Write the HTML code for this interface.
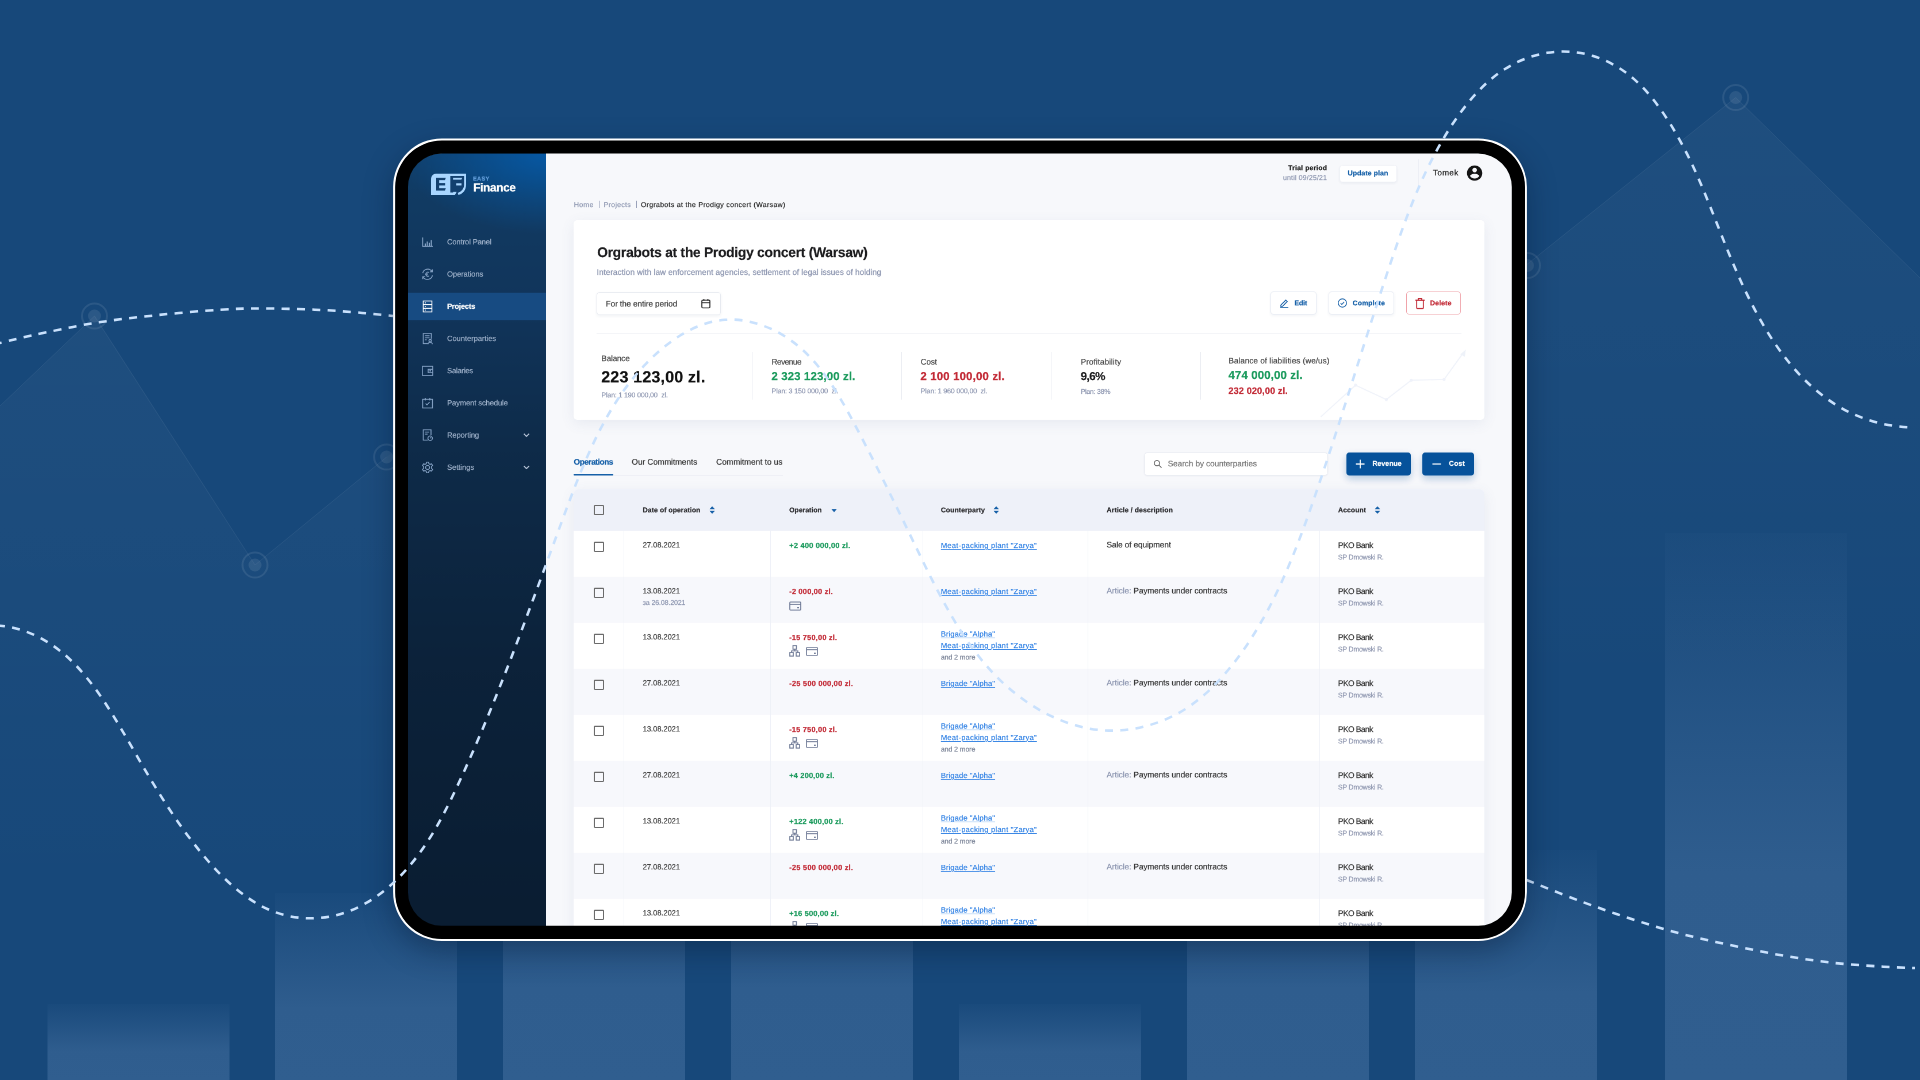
<!DOCTYPE html>
<html lang="en">
<head>
<meta charset="utf-8">
<title>Easy Finance – Project</title>
<style>
*{box-sizing:border-box;margin:0;padding:0}
html,body{width:1920px;height:1080px;overflow:hidden}
body{background:#17487a;font-family:"Liberation Sans",sans-serif;position:relative}
.abs{position:absolute}
#tablet{position:absolute;left:396px;top:142px;width:1128px;height:796px;border-radius:46px;background:#000;box-shadow:0 10px 30px 2px rgba(4,18,42,.38)}
#screen{position:absolute;left:407px;top:153px;width:1106px;height:774px;border-radius:35px;overflow:hidden;background:#f7f8fb}
#app{position:absolute;left:1px;top:0;width:1920px;height:1346px;transform:translate(0,0.5px) scale(.575);transform-origin:0 0;will-change:transform;color:#222;font-size:14px;text-rendering:geometricPrecision}
#app *{position:absolute;white-space:nowrap}
#app svg *{position:static}
.t{line-height:1;-webkit-text-stroke:0.3px}
#side{left:0;top:-4px;width:240px;height:1352px;background:linear-gradient(180deg,#10406d 0px,#113b63 80px,#11385f 160px,#11355b 270px,#0e2b49 520px,#0c223a 900px,#0a1d32 1344px)}
.nav{left:0;width:240px;height:48px}
.nav.on{background:#174b82}
.card{background:#fff;border-radius:6px;box-shadow:0 6px 24px rgba(80,100,150,.10)}
.btn{background:#fff;border-radius:5px;border:1px solid #e4e9f3;box-shadow:0 2px 4px rgba(60,80,130,.07)}
.vd{width:1px;background:#e6e9f0}
.row{left:288px;width:1584px;height:80px}
.cb{width:18px;height:18px;border:2px solid #6b6b6b;border-radius:2.5px;left:323px}
.cd{width:1px;background:#edf0f7;top:656px;height:700px}
.ic{stroke:#6f7a96;fill:none;stroke-width:1.7}
a.l{color:#2f80e4;text-decoration:underline;text-underline-offset:2px}
</style>
</head>
<body>
<svg class="abs" style="left:0;top:0" width="1920" height="1080" viewBox="0 0 1920 1080"><defs><linearGradient id="gb" x1="0" y1="0" x2="0" y2="1"><stop offset="0" stop-color="#2f5d8e" stop-opacity=".1"/><stop offset=".62" stop-color="#2f5d8e" stop-opacity="1"/><stop offset="1" stop-color="#305e8f" stop-opacity="1"/></linearGradient><linearGradient id="ga" gradientUnits="userSpaceOnUse" x1="0" y1="300" x2="0" y2="900"><stop offset="0" stop-color="#fff" stop-opacity=".035"/><stop offset="1" stop-color="#fff" stop-opacity="0"/></linearGradient><linearGradient id="gr" gradientUnits="userSpaceOnUse" x1="0" y1="90" x2="0" y2="700"><stop offset="0" stop-color="#fff" stop-opacity=".035"/><stop offset="1" stop-color="#fff" stop-opacity="0"/></linearGradient></defs><rect x="47.5" y="1004" width="182" height="76" fill="url(#gb)"/><rect x="275" y="893" width="182" height="187" fill="url(#gb)"/><rect x="503" y="840" width="182" height="240" fill="url(#gb)"/><rect x="731" y="840" width="182" height="240" fill="url(#gb)"/><rect x="959" y="1004" width="182" height="76" fill="url(#gb)"/><rect x="1187" y="840" width="182" height="240" fill="url(#gb)"/><rect x="1415" y="850" width="182" height="230" fill="url(#gb)"/><rect x="1665" y="533" width="182" height="547" fill="url(#gb)"/><path d="M0 406L94.5 316L255 565L386.6 457L420 430V1000H0Z" fill="url(#ga)"/><path d="M0 406L94.5 316L255 565L386.6 457" fill="none" stroke="#fff" stroke-opacity=".06" stroke-width="1"/><circle cx="94.5" cy="316" r="12.5" fill="none" stroke="#fff" stroke-opacity=".09" stroke-width="2"/><circle cx="94.5" cy="316" r="6.5" fill="#fff" fill-opacity=".09"/><circle cx="255" cy="565" r="12.5" fill="none" stroke="#fff" stroke-opacity=".09" stroke-width="2"/><circle cx="255" cy="565" r="6.5" fill="#fff" fill-opacity=".09"/><circle cx="386.6" cy="457" r="12.5" fill="none" stroke="#fff" stroke-opacity=".09" stroke-width="2"/><circle cx="386.6" cy="457" r="6.5" fill="#fff" fill-opacity=".09"/><path d="M1500 286L1735.7 97.5L1920 278V800H1500Z" fill="url(#gr)"/><path d="M1500 286L1735.7 97.5L1920 278" fill="none" stroke="#fff" stroke-opacity=".06" stroke-width="1"/><circle cx="1735.7" cy="97.5" r="12.5" fill="none" stroke="#fff" stroke-opacity=".09" stroke-width="2"/><circle cx="1735.7" cy="97.5" r="6.5" fill="#fff" fill-opacity=".09"/><circle cx="1527.5" cy="265.5" r="12.5" fill="none" stroke="#fff" stroke-opacity=".09" stroke-width="2"/><circle cx="1527.5" cy="265.5" r="6.5" fill="#fff" fill-opacity=".09"/><path d="M-6.0 344.5C0.2 343.0 14.8 339.2 31.5 335.6C48.2 332.0 73.5 326.4 94.5 323.0C115.5 319.6 136.4 317.3 157.4 315.1C178.4 312.9 203.1 310.8 220.4 309.7C237.7 308.6 245.6 308.5 261.3 308.5C277.1 308.5 298.1 309.0 314.9 309.7C331.7 310.4 349.1 311.8 362.1 312.9C375.1 313.9 387.9 315.5 393.0 316.0" stroke="#c9e1fd" stroke-width="2.55" fill="none" stroke-dasharray="8 7.3"/><path d="M1526.5 880.0C1535.4 883.5 1562.8 894.6 1580.0 901.0C1597.2 907.4 1613.3 913.1 1630.0 918.5C1646.7 923.9 1663.3 929.1 1680.0 933.5C1696.7 937.9 1713.3 941.4 1730.0 945.0C1746.7 948.6 1763.3 952.1 1780.0 955.0C1796.7 957.9 1813.3 960.6 1830.0 962.5C1846.7 964.4 1865.8 965.6 1880.0 966.5C1894.2 967.4 1909.2 967.8 1915.0 968.0" stroke="#c9e1fd" stroke-width="2.55" fill="none" stroke-dasharray="8 7.3"/></svg>
<div id="tablet"></div>
<div id="screen">
<div id="app">
<div id="side"></div>
<div style="left:0;top:0;width:240px;height:330px;background:radial-gradient(ellipse 250px 140px at 100% 0%,rgba(0,105,200,.6),rgba(0,105,200,0) 100%)"></div>
<svg style="left:40px;top:35.3px;width:61px;height:37px" viewBox="0 0 61 37">
<path d="M9.5 0H61V19C61 29 55 35.5 47.5 37H0V9.5C0 4 4 0 9.5 0Z" fill="#a9d6ff"/>
<path d="M33.5 4.1H57.5V19C57.5 26.5 52.5 31.5 46.5 33.5L47.7 37.2H41.5L44.6 31.7H38.5V32.7H33.5Z" fill="#12406f"/>
<path d="M38.3 7.2H54.5L52.6 10.5H38.3ZM43.9 16.8H53V20.5H43.9Z" fill="#a9d6ff"/>
<path d="M9 7.2H25.8L24.2 11.3H14.2V16.3H24.5V20.5H14.2V25.3H25.8L24.2 29.4H9Z" fill="#12406f"/>
</svg>
<div class="nav" style="top:130px"></div>
<svg style="left:22px;top:142px;width:24px;height:24px" viewBox="0 0 24 24" fill="none" stroke="#86a3c6" stroke-width="1.6"><path d="M3.5 4V19.5H21"/><path d="M8 19V14.5M11.5 19V11M15 19V13M18.5 19V8.5" stroke-width="2"/></svg>
<div class="nav" style="top:186px"></div>
<svg style="left:22px;top:198px;width:24px;height:24px" viewBox="0 0 24 24" fill="none" stroke="#86a3c6" stroke-width="1.6"><path d="M3.6 10.2A8.7 8.7 0 0 1 19.6 7.2M20.4 13.8A8.7 8.7 0 0 1 4.4 16.8"/><path d="M20.3 3.6V7.8H16.1M3.7 20.4V16.2H7.9"/><path d="M14.6 9.3A3.5 3.5 0 1 0 14.6 14.7M8.4 11.1H12.6M8.4 13H12.6" stroke-width="1.4"/></svg>
<div class="nav on" style="top:242px"></div>
<svg style="left:22px;top:254px;width:24px;height:24px" viewBox="0 0 24 24" fill="none" stroke="#fff" stroke-width="1.6"><rect x="4.5" y="2.5" width="15" height="19"/><path d="M4.5 8.8H19.5M4.5 15.2H19.5"/><path d="M7.3 5.7H9M7.3 12H9M7.3 18.3H9"/></svg>
<div class="nav" style="top:298px"></div>
<svg style="left:22px;top:310px;width:24px;height:24px" viewBox="0 0 24 24" fill="none" stroke="#86a3c6" stroke-width="1.6"><path d="M12.5 20.5H4.5V3H18.5V12"/><path d="M7.5 7H15.5M7.5 10.5H15.5M7.5 14H10.5"/><circle cx="16.5" cy="15.5" r="2.1"/><path d="M12.8 21.5C12.8 19 14.6 18.5 16.5 18.5S20.2 19 20.2 21.5"/></svg>
<div class="nav" style="top:354px"></div>
<svg style="left:22px;top:366px;width:24px;height:24px" viewBox="0 0 24 24" fill="none" stroke="#86a3c6" stroke-width="1.6"><rect x="3" y="4" width="18" height="16"/><path d="M21 9.2H13V15H21"/><path d="M15.3 12.1H18" stroke-width="2.2"/></svg>
<div class="nav" style="top:410px"></div>
<svg style="left:22px;top:422px;width:24px;height:24px" viewBox="0 0 24 24" fill="none" stroke="#86a3c6" stroke-width="1.6"><rect x="3.5" y="5.5" width="17" height="15"/><path d="M8 3V7.5M16 3V7.5"/><path d="M8.5 12.8L11 15.2L15.6 10.3"/></svg>
<div class="nav" style="top:466px"></div>
<svg style="left:22px;top:478px;width:24px;height:24px" viewBox="0 0 24 24" fill="none" stroke="#86a3c6" stroke-width="1.6"><path d="M12.5 20.5H4.5V2.5H18V12"/><path d="M7.5 6.5H15M7.5 10H12"/><circle cx="16.5" cy="17.2" r="3.9"/><path d="M16.5 17.2L18.3 15.6"/></svg>
<svg style="left:198px;top:482px;width:16px;height:16px" viewBox="0 0 16 16" fill="none" stroke="#b9c7da" stroke-width="1.8"><path d="M3.5 5.5L8 10L12.5 5.5"/></svg>
<div class="nav" style="top:522px"></div>
<svg style="left:22px;top:534px;width:24px;height:24px" viewBox="0 0 24 24" fill="none" stroke="#86a3c6" stroke-width="1.6"><circle cx="12" cy="12" r="3.5"/><path d="M10.3 2.8H13.7L14.3 5.4L16.5 6.6L19 5.8L20.7 8.7L18.8 10.5V13.5L20.7 15.3L19 18.2L16.5 17.4L14.3 18.6L13.7 21.2H10.3L9.7 18.6L7.5 17.4L5 18.2L3.3 15.3L5.2 13.5V10.5L3.3 8.7L5 5.8L7.5 6.6L9.7 5.4Z"/></svg>
<svg style="left:198px;top:538px;width:16px;height:16px" viewBox="0 0 16 16" fill="none" stroke="#b9c7da" stroke-width="1.8"><path d="M3.5 5.5L8 10L12.5 5.5"/></svg>
<div class="btn" style="left:1620px;top:20px;width:100px;height:30px;border-color:#eef0f6"></div>
<div class="vd" style="left:1757px;top:10px;height:48px;background:#eceef4"></div>
<svg style="left:1839px;top:18px;width:32px;height:32px" viewBox="0 0 24 24"><path fill="#141414" d="M12 2C6.48 2 2 6.48 2 12s4.48 10 10 10 10-4.48 10-10S17.52 2 12 2zm0 3c1.66 0 3 1.34 3 3s-1.34 3-3 3-3-1.34-3-3 1.34-3 3-3zm0 14.2c-2.5 0-4.71-1.28-6-3.22.03-1.99 4-3.08 6-3.08 1.99 0 5.97 1.09 6 3.08-1.29 1.94-3.5 3.22-6 3.22z"/></svg>
<div style="left:332.2px;top:82px;width:1px;height:13px;background:#8d96b0"></div>
<div style="left:396.9px;top:82px;width:1px;height:13px;background:#8d96b0"></div>
<div class="card" style="left:288px;top:116px;width:1584px;height:347px"></div>
<div class="btn" style="left:328px;top:241px;width:216px;height:40px;border-color:#e6e9f0"></div>
<svg style="left:508px;top:251px;width:20px;height:20px" viewBox="0 0 20 20" fill="none" stroke="#222" stroke-width="1.7"><rect x="3" y="4" width="14" height="13.5" rx="1.5"/><path d="M3 8.5H17M6.5 2V5M13.5 2V5"/></svg>
<div class="btn" style="left:1500px;top:240px;width:80px;height:40px"></div>
<svg style="left:1515.1px;top:251px;width:18px;height:18px" viewBox="0 0 18 18" fill="none" stroke="#1660a8" stroke-width="1.6"><path d="M3 12.5L11.5 4L14 6.5L5.5 15H3Z"/><path d="M2 17H16"/></svg>
<div class="btn" style="left:1601px;top:240px;width:114px;height:40px"></div>
<svg style="left:1615.9px;top:251px;width:18px;height:18px" viewBox="0 0 18 18" fill="none" stroke="#1660a8" stroke-width="1.5"><circle cx="9" cy="9" r="7.2"/><path d="M5.8 9.3L8 11.4L12.2 7"/></svg>
<div class="btn" style="left:1736px;top:240px;width:95px;height:40px;border-color:#f0a3aa;box-shadow:none"></div>
<svg style="left:1751.3px;top:249.5px;width:18px;height:21px" viewBox="0 0 18 21" fill="none" stroke="#c22a36" stroke-width="1.8"><path d="M1 5H17M6 4.5V2H12V4.5M3.2 5V18C3.2 19 3.8 19.6 4.8 19.6H13.2C14.2 19.6 14.8 19 14.8 18V5"/></svg>
<div style="left:328px;top:312px;width:1504px;height:1px;background:#e9ebf1"></div>
<div class="vd" style="left:598.3px;top:345px;height:83px"></div>
<div class="vd" style="left:858.3px;top:345px;height:83px"></div>
<div class="vd" style="left:1118.3px;top:345px;height:83px"></div>
<div class="vd" style="left:1378.3px;top:345px;height:83px"></div>
<svg style="left:1551.3px;top:324.3px;width:313.0px;height:139.1px" viewBox="1300 340 180 80" fill="none"><path d="M1321 417L1355.7 385.4L1386.5 399.7L1411.5 380.4L1444.3 379.6L1463.5 353" stroke="#f0f3fa" stroke-width="1.1"/><path d="M1460.5 354.5L1466 349.8L1465 357Z" fill="#eef2f9"/><circle cx="1355.7" cy="385.4" r="1.5" fill="#eff2fa"/><circle cx="1386.5" cy="399.7" r="1.5" fill="#eff2fa"/><circle cx="1411.5" cy="380.4" r="1.5" fill="#eff2fa"/><circle cx="1444.3" cy="379.6" r="1.5" fill="#eff2fa"/></svg>
<div style="left:288px;top:559px;width:364px;height:1px;background:#e6e9f0"></div>
<div style="left:288px;top:556.5px;width:68.5px;height:3.5px;border-radius:2px;background:#1660a8"></div>
<div class="btn" style="left:1280px;top:520px;width:320px;height:40px;border-color:#e6e9f0;box-shadow:0 1px 3px rgba(60,80,130,.06)"></div>
<svg style="left:1295px;top:531px;width:18px;height:18px" viewBox="0 0 18 18" fill="none" stroke="#666" stroke-width="1.6"><circle cx="7.5" cy="7.5" r="4.6"/><path d="M11 11L15.5 15.5"/></svg>
<div style="left:1632px;top:520px;width:112px;height:40px;border-radius:5px;background:#06529b;box-shadow:0 6px 14px rgba(6,82,155,.28)"></div>
<svg style="left:1647px;top:531px;width:18px;height:18px" viewBox="0 0 18 18" stroke="#fff" stroke-width="1.8"><path d="M9 1.5V16.5M1.5 9H16.5"/></svg>
<div style="left:1764px;top:520px;width:90px;height:40px;border-radius:5px;background:#06529b;box-shadow:0 6px 14px rgba(6,82,155,.28)"></div>
<svg style="left:1780px;top:531px;width:18px;height:18px" viewBox="0 0 18 18" stroke="#fff" stroke-width="1.8"><path d="M1.5 9H16.5"/></svg>
<div style="left:288px;top:584px;width:1584px;height:780px;border-radius:8px 8px 0 0;background:#fff;box-shadow:0 6px 24px rgba(80,100,150,.10)"></div>
<div style="left:288px;top:584px;width:1584px;height:72px;border-radius:8px 8px 0 0;background:#eef1f9"></div>
<div class="cb" style="top:611px"></div>
<svg style="left:523.7px;top:613px;width:10px;height:14px" viewBox="0 0 10 14" fill="#1660a8"><path d="M5 0.5L9.6 5.6H0.4ZM5 13.5L9.6 8.4H0.4Z"/></svg>
<svg style="left:735.5px;top:617.5px;width:10px;height:6px" viewBox="0 0 10 6" fill="#1660a8"><path d="M0.2 0.3H9.8L5 5.7Z"/></svg>
<svg style="left:1018.3px;top:613px;width:10px;height:14px" viewBox="0 0 10 14" fill="#1660a8"><path d="M5 0.5L9.6 5.6H0.4ZM5 13.5L9.6 8.4H0.4Z"/></svg>
<svg style="left:1681.3px;top:613px;width:10px;height:14px" viewBox="0 0 10 14" fill="#1660a8"><path d="M5 0.5L9.6 5.6H0.4ZM5 13.5L9.6 8.4H0.4Z"/></svg>
<div class="row" style="top:656px;background:#fff"></div>
<div class="cb" style="top:675px"></div>
<div class="row" style="top:736px;background:#f7f8fc"></div>
<div class="cb" style="top:755px"></div>
<svg class="ic" style="left:662.5px;top:778.5px;width:21px;height:16px" viewBox="0 0 21 16"><rect x="1" y="1" width="19" height="14" rx="1.2"/><path d="M1 5H20"/><path d="M14 11H17" stroke-width="2"/></svg>
<div class="row" style="top:816px;background:#fff"></div>
<div class="cb" style="top:835px"></div>
<svg class="ic" style="left:662.5px;top:855px;width:19px;height:20px" viewBox="0 0 19 20"><rect x="6.5" y="1" width="6" height="6"/><rect x="1" y="13" width="6" height="6"/><rect x="12" y="13" width="6" height="6"/><path d="M9.5 7V10M4 13V10H15V13"/></svg>
<svg class="ic" style="left:691.7px;top:857.5px;width:21px;height:16px" viewBox="0 0 21 16"><rect x="1" y="1" width="19" height="14" rx="1.2"/><path d="M1 5H20"/><path d="M14 11H17" stroke-width="2"/></svg>
<div class="row" style="top:896px;background:#f7f8fc"></div>
<div class="cb" style="top:915px"></div>
<div class="row" style="top:976px;background:#fff"></div>
<div class="cb" style="top:995px"></div>
<svg class="ic" style="left:662.5px;top:1015px;width:19px;height:20px" viewBox="0 0 19 20"><rect x="6.5" y="1" width="6" height="6"/><rect x="1" y="13" width="6" height="6"/><rect x="12" y="13" width="6" height="6"/><path d="M9.5 7V10M4 13V10H15V13"/></svg>
<svg class="ic" style="left:691.7px;top:1017.5px;width:21px;height:16px" viewBox="0 0 21 16"><rect x="1" y="1" width="19" height="14" rx="1.2"/><path d="M1 5H20"/><path d="M14 11H17" stroke-width="2"/></svg>
<div class="row" style="top:1056px;background:#f7f8fc"></div>
<div class="cb" style="top:1075px"></div>
<div class="row" style="top:1136px;background:#fff"></div>
<div class="cb" style="top:1155px"></div>
<svg class="ic" style="left:662.5px;top:1175px;width:19px;height:20px" viewBox="0 0 19 20"><rect x="6.5" y="1" width="6" height="6"/><rect x="1" y="13" width="6" height="6"/><rect x="12" y="13" width="6" height="6"/><path d="M9.5 7V10M4 13V10H15V13"/></svg>
<svg class="ic" style="left:691.7px;top:1177.5px;width:21px;height:16px" viewBox="0 0 21 16"><rect x="1" y="1" width="19" height="14" rx="1.2"/><path d="M1 5H20"/><path d="M14 11H17" stroke-width="2"/></svg>
<div class="row" style="top:1216px;background:#f7f8fc"></div>
<div class="cb" style="top:1235px"></div>
<div class="row" style="top:1296px;background:#fff"></div>
<div class="cb" style="top:1315px"></div>
<svg class="ic" style="left:662.5px;top:1335px;width:19px;height:20px" viewBox="0 0 19 20"><rect x="6.5" y="1" width="6" height="6"/><rect x="1" y="13" width="6" height="6"/><rect x="12" y="13" width="6" height="6"/><path d="M9.5 7V10M4 13V10H15V13"/></svg>
<svg class="ic" style="left:691.7px;top:1337.5px;width:21px;height:16px" viewBox="0 0 21 16"><rect x="1" y="1" width="19" height="14" rx="1.2"/><path d="M1 5H20"/><path d="M14 11H17" stroke-width="2"/></svg>
<div class="cd" style="left:374.5px"></div>
<div class="cd" style="left:630px"></div>
<div class="cd" style="left:894.8px"></div>
<div class="cd" style="left:1181.7px"></div>
<div class="cd" style="left:1585px"></div>
<span class="t" style="top:39.8px;font-size:10px;color:#5f9ad6;left:112.9px;font-weight:bold;letter-spacing:0.452px;">EASY</span>
<span class="t" style="top:49.6px;font-size:20.5px;color:#fff;left:113.4px;font-weight:bold;letter-spacing:-0.533px;">Finance</span>
<span class="t" style="top:147.2px;font-size:13px;color:#9db0c9;left:68.0px;letter-spacing:-0.134px;">Control Panel</span>
<span class="t" style="top:203.2px;font-size:13px;color:#9db0c9;left:68.0px;letter-spacing:-0.081px;">Operations</span>
<span class="t" style="top:259.2px;font-size:13px;color:#fff;left:68.0px;font-weight:bold;letter-spacing:-0.349px;">Projects</span>
<span class="t" style="top:315.2px;font-size:13px;color:#9db0c9;left:68.0px;letter-spacing:-0.005px;">Counterparties</span>
<span class="t" style="top:371.2px;font-size:13px;color:#9db0c9;left:68.0px;letter-spacing:-0.241px;">Salaries</span>
<span class="t" style="top:427.2px;font-size:13px;color:#9db0c9;left:68.0px;letter-spacing:-0.087px;">Payment schedule</span>
<span class="t" style="top:483.2px;font-size:13px;color:#9db0c9;left:68.0px;letter-spacing:-0.100px;">Reporting</span>
<span class="t" style="top:539.2px;font-size:13px;color:#9db0c9;left:68.0px;">Settings</span>
<span class="t" style="top:19.0px;font-size:12px;color:#222;right:321.7px;font-weight:bold;letter-spacing:0.233px;">Trial period</span>
<span class="t" style="top:35.5px;font-size:12px;color:#8d96b0;right:321.7px;letter-spacing:0.319px;">until 09/25/21</span>
<span class="t" style="top:27.5px;font-size:12px;color:#1660a8;left:1634.3px;font-weight:bold;letter-spacing:0.160px;">Update plan</span>
<span class="t" style="top:26.4px;font-size:14px;color:#222;left:1782.6px;letter-spacing:0.657px;">Tomek</span>
<span class="t" style="top:83.2px;font-size:12px;color:#8d96b0;left:288.5px;letter-spacing:0.605px;">Home</span>
<span class="t" style="top:83.2px;font-size:12px;color:#8d96b0;left:340.2px;letter-spacing:0.537px;">Projects</span>
<span class="t" style="top:83.2px;font-size:12px;color:#222;left:404.9px;letter-spacing:0.586px;">Orgrabots at the Prodigy concert (Warsaw)</span>
<span class="t" style="top:160.6px;font-size:24px;color:#1c1c1e;left:329.0px;font-weight:bold;letter-spacing:-0.450px;">Orgrabots at the Prodigy concert (Warsaw)</span>
<span class="t" style="top:198.8px;font-size:14px;color:#8d96b0;left:328.3px;letter-spacing:0.058px;">Interaction with law enforcement agencies, settlement of legal issues of holding</span>
<span class="t" style="top:253.7px;font-size:14px;color:#3a3a3a;left:344.0px;letter-spacing:-0.091px;">For the entire period</span>
<span class="t" style="top:253.6px;font-size:12px;color:#1660a8;left:1541.6px;font-weight:bold;letter-spacing:-0.146px;">Edit</span>
<span class="t" style="top:253.6px;font-size:12px;color:#1660a8;left:1642.8px;font-weight:bold;letter-spacing:0.208px;">Complete</span>
<span class="t" style="top:253.6px;font-size:12px;color:#c22a36;left:1777.4px;font-weight:bold;letter-spacing:0.256px;">Delete</span>
<span class="t" style="top:349.4px;font-size:14px;color:#4a4a4a;left:336.3px;letter-spacing:-0.197px;">Balance</span>
<span class="t" style="top:374.6px;font-size:28px;color:#111;left:336.0px;font-weight:bold;letter-spacing:0.267px;">223 123,00 zl.</span>
<span class="t" style="top:413.5px;font-size:12px;color:#8d96b0;left:336.3px;letter-spacing:-0.164px;">Plan: 1 190 000,00&nbsp; zl.</span>
<span class="t" style="top:354.9px;font-size:14px;color:#4a4a4a;left:632.3px;letter-spacing:-0.653px;">Revenue</span>
<span class="t" style="top:378.2px;font-size:20px;color:#1a9a5c;left:632.0px;font-weight:bold;letter-spacing:0.165px;">2 323 123,00 zl.</span>
<span class="t" style="top:407.0px;font-size:12px;color:#8d96b0;left:632.3px;letter-spacing:-0.156px;">Plan: 3 150 000,00&nbsp; zl.</span>
<span class="t" style="top:354.9px;font-size:14px;color:#4a4a4a;left:891.5px;letter-spacing:-0.112px;">Cost</span>
<span class="t" style="top:378.2px;font-size:20px;color:#c22a36;left:891.1px;font-weight:bold;letter-spacing:0.208px;">2 100 100,00 zl.</span>
<span class="t" style="top:407.0px;font-size:12px;color:#8d96b0;left:891.5px;letter-spacing:-0.156px;">Plan: 1 960 000,00&nbsp; zl.</span>
<span class="t" style="top:354.6px;font-size:14px;color:#4a4a4a;left:1169.9px;letter-spacing:0.151px;">Profitability</span>
<span class="t" style="top:378.4px;font-size:20px;color:#1c1c1e;left:1169.7px;font-weight:bold;letter-spacing:-0.790px;">9,6%</span>
<span class="t" style="top:408.4px;font-size:12px;color:#8d96b0;left:1169.9px;letter-spacing:-0.378px;">Plan: 38%</span>
<span class="t" style="top:352.7px;font-size:14px;color:#4a4a4a;left:1427.0px;letter-spacing:0.091px;">Balance of liabilities (we/us)</span>
<span class="t" style="top:375.9px;font-size:20px;color:#1a9a5c;left:1426.8px;font-weight:bold;letter-spacing:0.174px;">474 000,00 zl.</span>
<span class="t" style="top:405.6px;font-size:16px;color:#c22a36;left:1426.8px;font-weight:bold;letter-spacing:0.134px;">232 020,00 zl.</span>
<span class="t" style="top:528.9px;font-size:14px;color:#1660a8;left:288.2px;font-weight:bold;letter-spacing:-0.556px;">Operations</span>
<span class="t" style="top:528.9px;font-size:14px;color:#333;left:389.0px;letter-spacing:0.022px;">Our Commitments</span>
<span class="t" style="top:528.9px;font-size:14px;color:#333;left:536.0px;letter-spacing:0.107px;">Commitment to us</span>
<span class="t" style="top:532.2px;font-size:14px;color:#777;left:1321.4px;letter-spacing:-0.036px;">Search by counterparties</span>
<span class="t" style="top:532.9px;font-size:12px;color:#fff;left:1677.2px;font-weight:bold;letter-spacing:0.132px;">Revenue</span>
<span class="t" style="top:532.9px;font-size:12px;color:#fff;left:1810.3px;font-weight:bold;letter-spacing:0.289px;">Cost</span>
<span class="t" style="top:613.6px;font-size:12px;color:#2b2b2e;left:408.2px;font-weight:bold;letter-spacing:0.099px;">Date of operation</span>
<span class="t" style="top:613.6px;font-size:12px;color:#2b2b2e;left:663.0px;font-weight:bold;letter-spacing:-0.017px;">Operation</span>
<span class="t" style="top:613.6px;font-size:12px;color:#2b2b2e;left:926.8px;font-weight:bold;letter-spacing:0.098px;">Counterparty</span>
<span class="t" style="top:613.6px;font-size:12px;color:#2b2b2e;left:1215.0px;font-weight:bold;letter-spacing:0.148px;">Article / description</span>
<span class="t" style="top:613.6px;font-size:12px;color:#2b2b2e;left:1617.6px;font-weight:bold;letter-spacing:0.050px;">Account</span>
<span class="t" style="top:674.3px;font-size:13px;color:#444;left:408.2px;letter-spacing:-0.021px;">27.08.2021</span>
<span class="t" style="top:675.0px;font-size:13px;color:#1a9a5c;left:663.0px;font-weight:bold;letter-spacing:0.329px;">+2 400 000,00 zl.</span>
<span class="t" style="top:674.8px;font-size:13px;color:#2f80e4;left:926.8px;letter-spacing:0.424px;color:#2f80e4;text-decoration:underline;text-underline-offset:1.5px;text-decoration-thickness:1px;">Meat-packing plant "Zarya"</span>
<span class="t" style="top:672.5px;font-size:14px;color:#333;left:1215.0px;letter-spacing:-0.061px;">Sale of equipment</span>
<span class="t" style="top:674.4px;font-size:14px;color:#333;left:1617.6px;letter-spacing:-0.607px;">PKO Bank</span>
<span class="t" style="top:695.9px;font-size:12px;color:#9098b0;left:1617.6px;letter-spacing:-0.295px;">SP Dmowski R.</span>
<span class="t" style="top:754.3px;font-size:13px;color:#444;left:408.2px;letter-spacing:-0.021px;">13.08.2021</span>
<span class="t" style="top:775.2px;font-size:12px;color:#8d96b0;left:408.2px;letter-spacing:-0.101px;">за 26.08.2021</span>
<span class="t" style="top:755.0px;font-size:13px;color:#c22a36;left:663.0px;font-weight:bold;letter-spacing:0.299px;">-2 000,00 zl.</span>
<span class="t" style="top:754.8px;font-size:13px;color:#2f80e4;left:926.8px;letter-spacing:0.424px;color:#2f80e4;text-decoration:underline;text-underline-offset:1.5px;text-decoration-thickness:1px;">Meat-packing plant "Zarya"</span>
<span class="t" style="top:752.5px;font-size:14px;color:#333;left:1215.0px;letter-spacing:0.012px;"><span style="position:static;color:#8d96b0">Article:</span> Payments under contracts</span>
<span class="t" style="top:754.4px;font-size:14px;color:#333;left:1617.6px;letter-spacing:-0.607px;">PKO Bank</span>
<span class="t" style="top:775.9px;font-size:12px;color:#9098b0;left:1617.6px;letter-spacing:-0.295px;">SP Dmowski R.</span>
<span class="t" style="top:834.3px;font-size:13px;color:#444;left:408.2px;letter-spacing:-0.021px;">13.08.2021</span>
<span class="t" style="top:835.0px;font-size:13px;color:#c22a36;left:663.0px;font-weight:bold;letter-spacing:0.272px;">-15 750,00 zl.</span>
<span class="t" style="top:828.7px;font-size:13px;color:#2f80e4;left:926.8px;letter-spacing:0.224px;color:#2f80e4;text-decoration:underline;text-underline-offset:1.5px;text-decoration-thickness:1px;">Brigade "Alpha"</span>
<span class="t" style="top:848.7px;font-size:13px;color:#2f80e4;left:926.8px;letter-spacing:0.424px;color:#2f80e4;text-decoration:underline;text-underline-offset:1.5px;text-decoration-thickness:1px;">Meat-packing plant "Zarya"</span>
<span class="t" style="top:869.8px;font-size:12px;color:#7d8699;left:926.8px;letter-spacing:-0.105px;">and 2 more</span>
<span class="t" style="top:834.4px;font-size:14px;color:#333;left:1617.6px;letter-spacing:-0.607px;">PKO Bank</span>
<span class="t" style="top:855.9px;font-size:12px;color:#9098b0;left:1617.6px;letter-spacing:-0.295px;">SP Dmowski R.</span>
<span class="t" style="top:914.3px;font-size:13px;color:#444;left:408.2px;letter-spacing:-0.021px;">27.08.2021</span>
<span class="t" style="top:915.0px;font-size:13px;color:#c22a36;left:663.0px;font-weight:bold;letter-spacing:0.361px;">-25 500 000,00 zl.</span>
<span class="t" style="top:914.8px;font-size:13px;color:#2f80e4;left:926.8px;letter-spacing:0.224px;color:#2f80e4;text-decoration:underline;text-underline-offset:1.5px;text-decoration-thickness:1px;">Brigade "Alpha"</span>
<span class="t" style="top:912.5px;font-size:14px;color:#333;left:1215.0px;letter-spacing:0.012px;"><span style="position:static;color:#8d96b0">Article:</span> Payments under contracts</span>
<span class="t" style="top:914.4px;font-size:14px;color:#333;left:1617.6px;letter-spacing:-0.607px;">PKO Bank</span>
<span class="t" style="top:935.9px;font-size:12px;color:#9098b0;left:1617.6px;letter-spacing:-0.295px;">SP Dmowski R.</span>
<span class="t" style="top:994.3px;font-size:13px;color:#444;left:408.2px;letter-spacing:-0.021px;">13.08.2021</span>
<span class="t" style="top:995.0px;font-size:13px;color:#c22a36;left:663.0px;font-weight:bold;letter-spacing:0.272px;">-15 750,00 zl.</span>
<span class="t" style="top:988.7px;font-size:13px;color:#2f80e4;left:926.8px;letter-spacing:0.224px;color:#2f80e4;text-decoration:underline;text-underline-offset:1.5px;text-decoration-thickness:1px;">Brigade "Alpha"</span>
<span class="t" style="top:1008.7px;font-size:13px;color:#2f80e4;left:926.8px;letter-spacing:0.424px;color:#2f80e4;text-decoration:underline;text-underline-offset:1.5px;text-decoration-thickness:1px;">Meat-packing plant "Zarya"</span>
<span class="t" style="top:1029.8px;font-size:12px;color:#7d8699;left:926.8px;letter-spacing:-0.105px;">and 2 more</span>
<span class="t" style="top:994.4px;font-size:14px;color:#333;left:1617.6px;letter-spacing:-0.607px;">PKO Bank</span>
<span class="t" style="top:1015.9px;font-size:12px;color:#9098b0;left:1617.6px;letter-spacing:-0.295px;">SP Dmowski R.</span>
<span class="t" style="top:1074.3px;font-size:13px;color:#444;left:408.2px;letter-spacing:-0.021px;">27.08.2021</span>
<span class="t" style="top:1075.0px;font-size:13px;color:#1a9a5c;left:663.0px;font-weight:bold;letter-spacing:0.250px;">+4 200,00 zl.</span>
<span class="t" style="top:1074.8px;font-size:13px;color:#2f80e4;left:926.8px;letter-spacing:0.224px;color:#2f80e4;text-decoration:underline;text-underline-offset:1.5px;text-decoration-thickness:1px;">Brigade "Alpha"</span>
<span class="t" style="top:1072.5px;font-size:14px;color:#333;left:1215.0px;letter-spacing:0.012px;"><span style="position:static;color:#8d96b0">Article:</span> Payments under contracts</span>
<span class="t" style="top:1074.4px;font-size:14px;color:#333;left:1617.6px;letter-spacing:-0.607px;">PKO Bank</span>
<span class="t" style="top:1095.9px;font-size:12px;color:#9098b0;left:1617.6px;letter-spacing:-0.295px;">SP Dmowski R.</span>
<span class="t" style="top:1154.3px;font-size:13px;color:#444;left:408.2px;letter-spacing:-0.021px;">13.08.2021</span>
<span class="t" style="top:1155.0px;font-size:13px;color:#1a9a5c;left:663.0px;font-weight:bold;letter-spacing:0.296px;">+122 400,00 zl.</span>
<span class="t" style="top:1148.7px;font-size:13px;color:#2f80e4;left:926.8px;letter-spacing:0.224px;color:#2f80e4;text-decoration:underline;text-underline-offset:1.5px;text-decoration-thickness:1px;">Brigade "Alpha"</span>
<span class="t" style="top:1168.7px;font-size:13px;color:#2f80e4;left:926.8px;letter-spacing:0.424px;color:#2f80e4;text-decoration:underline;text-underline-offset:1.5px;text-decoration-thickness:1px;">Meat-packing plant "Zarya"</span>
<span class="t" style="top:1189.8px;font-size:12px;color:#7d8699;left:926.8px;letter-spacing:-0.105px;">and 2 more</span>
<span class="t" style="top:1154.4px;font-size:14px;color:#333;left:1617.6px;letter-spacing:-0.607px;">PKO Bank</span>
<span class="t" style="top:1175.9px;font-size:12px;color:#9098b0;left:1617.6px;letter-spacing:-0.295px;">SP Dmowski R.</span>
<span class="t" style="top:1234.3px;font-size:13px;color:#444;left:408.2px;letter-spacing:-0.021px;">27.08.2021</span>
<span class="t" style="top:1235.0px;font-size:13px;color:#c22a36;left:663.0px;font-weight:bold;letter-spacing:0.361px;">-25 500 000,00 zl.</span>
<span class="t" style="top:1234.8px;font-size:13px;color:#2f80e4;left:926.8px;letter-spacing:0.224px;color:#2f80e4;text-decoration:underline;text-underline-offset:1.5px;text-decoration-thickness:1px;">Brigade "Alpha"</span>
<span class="t" style="top:1232.5px;font-size:14px;color:#333;left:1215.0px;letter-spacing:0.012px;"><span style="position:static;color:#8d96b0">Article:</span> Payments under contracts</span>
<span class="t" style="top:1234.4px;font-size:14px;color:#333;left:1617.6px;letter-spacing:-0.607px;">PKO Bank</span>
<span class="t" style="top:1255.9px;font-size:12px;color:#9098b0;left:1617.6px;letter-spacing:-0.295px;">SP Dmowski R.</span>
<span class="t" style="top:1314.3px;font-size:13px;color:#444;left:408.2px;letter-spacing:-0.021px;">13.08.2021</span>
<span class="t" style="top:1315.0px;font-size:13px;color:#1a9a5c;left:663.0px;font-weight:bold;letter-spacing:0.275px;">+16 500,00 zl.</span>
<span class="t" style="top:1308.7px;font-size:13px;color:#2f80e4;left:926.8px;letter-spacing:0.224px;color:#2f80e4;text-decoration:underline;text-underline-offset:1.5px;text-decoration-thickness:1px;">Brigade "Alpha"</span>
<span class="t" style="top:1328.7px;font-size:13px;color:#2f80e4;left:926.8px;letter-spacing:0.424px;color:#2f80e4;text-decoration:underline;text-underline-offset:1.5px;text-decoration-thickness:1px;">Meat-packing plant "Zarya"</span>
<span class="t" style="top:1349.8px;font-size:12px;color:#7d8699;left:926.8px;letter-spacing:-0.105px;">and 2 more</span>
<span class="t" style="top:1314.4px;font-size:14px;color:#333;left:1617.6px;letter-spacing:-0.607px;">PKO Bank</span>
<span class="t" style="top:1335.9px;font-size:12px;color:#9098b0;left:1617.6px;letter-spacing:-0.295px;">SP Dmowski R.</span>
</div>
</div>
<svg class="abs" style="left:0;top:0" width="1920" height="1080" viewBox="0 0 1920 1080"><path fill-rule="evenodd" fill="#fff" d="M441.70000000000005 138.4H1478.3000000000002A48.6 48.6 0 0 1 1526.9 187.0V892.3A48.6 48.6 0 0 1 1478.3000000000002 940.9H441.70000000000005A48.6 48.6 0 0 1 393.1 892.3V187.0A48.6 48.6 0 0 1 441.70000000000005 138.4ZM441.8 141H1478.3999999999999A46.2 46.2 0 0 1 1524.6 187.2V892.4A46.2 46.2 0 0 1 1478.3999999999999 938.6H441.8A46.2 46.2 0 0 1 395.6 892.4V187.2A46.2 46.2 0 0 1 441.8 141Z"/><path fill-rule="evenodd" fill="#000" d="M441.8 140.6H1478.4A46.6 46.6 0 0 1 1525 187.2V892.4A46.6 46.6 0 0 1 1478.4 939H441.8A46.6 46.6 0 0 1 395.2 892.4V187.2A46.6 46.6 0 0 1 441.8 140.6ZM441.5 153.6H1478.3A33.5 33.5 0 0 1 1511.8 187.1V892.2A33.5 33.5 0 0 1 1478.3 925.7H441.5A33.5 33.5 0 0 1 408 892.2V187.1A33.5 33.5 0 0 1 441.5 153.6Z"/><path d="M-3.1 625.4C13.7 626.7 28.4 631.4 41.6 638.6C54.8 645.7 66.5 655.4 77.0 666.5C87.5 677.7 97.0 690.5 105.7 703.8C114.5 717.2 122.6 731.2 130.6 744.9C138.5 758.7 146.2 772.1 154.2 785.2C162.2 798.3 170.4 811.1 179.2 823.7C188.1 836.4 197.6 848.8 208.1 861.0C218.7 873.1 230.2 884.7 242.7 894.1C255.3 903.6 269.0 911.0 283.7 914.8C298.4 918.7 314.0 919.4 329.1 916.7C344.2 914.1 358.8 908.0 372.0 899.5C385.2 890.9 397.0 880.2 407.3 868.5C417.5 856.8 426.4 844.0 434.4 830.5C442.3 817.0 449.4 802.9 456.1 788.7C462.8 774.4 469.2 760.1 475.4 745.8C481.6 731.5 487.6 717.2 493.4 702.8C499.2 688.4 504.9 674.0 510.5 659.6C516.0 645.2 521.5 630.7 526.9 616.2C532.3 601.7 537.7 587.2 543.0 572.6C548.4 558.0 553.8 543.3 559.2 528.6C564.6 513.9 570.1 499.1 575.8 484.4C581.6 469.7 587.7 455.2 594.4 441.1C601.2 427.0 608.6 413.3 617.1 400.3C625.5 387.4 635.0 375.1 645.9 363.8C656.7 352.6 669.0 342.1 682.4 334.2C695.7 326.3 710.1 320.9 725.0 319.8C740.0 318.6 755.5 322.0 770.0 328.4C784.4 334.8 797.4 344.2 808.3 355.3C819.2 366.3 828.4 379.1 836.7 392.6C845.1 406.1 852.5 420.2 859.8 434.1C867.1 448.0 874.1 461.7 881.0 475.5C887.9 489.3 894.6 503.0 901.4 516.9C908.1 530.7 914.8 544.6 921.6 558.7C928.5 572.8 935.5 586.9 943.0 600.7C950.5 614.6 958.5 628.1 967.3 640.9C976.2 653.7 985.9 665.9 996.8 676.9C1007.8 687.9 1020.0 697.9 1033.3 706.2C1046.5 714.5 1060.7 721.1 1075.5 725.3C1090.3 729.6 1105.7 731.4 1121.2 730.3C1136.8 729.1 1152.4 725.2 1166.8 718.9C1181.2 712.6 1194.3 703.8 1205.9 693.4C1217.5 683.0 1227.7 671.1 1237.1 658.8C1246.4 646.4 1254.8 633.4 1262.4 619.9C1270.1 606.5 1277.0 592.5 1283.3 578.3C1289.7 564.1 1295.5 549.5 1301.1 534.8C1306.6 520.2 1311.8 505.4 1316.8 490.6C1321.9 475.8 1326.8 461.0 1331.7 446.1C1336.5 431.3 1341.3 416.5 1346.0 401.7C1350.7 386.9 1355.3 372.1 1360.0 357.3C1364.7 342.5 1369.4 327.7 1374.2 312.9C1378.9 298.1 1383.8 283.3 1388.7 268.5C1393.7 253.8 1398.7 239.0 1404.1 224.4C1409.5 209.7 1415.2 195.2 1421.6 181.0C1428.0 166.8 1435.0 152.9 1442.9 139.5C1450.8 126.0 1459.7 112.9 1469.7 100.8C1479.8 88.8 1491.1 77.9 1504.1 69.5C1517.1 61.1 1531.9 55.3 1547.2 52.8C1562.5 50.3 1578.3 51.5 1593.1 56.0C1607.9 60.5 1621.7 68.4 1633.5 78.6C1645.3 88.9 1655.3 101.4 1664.1 114.4C1672.9 127.4 1680.5 140.9 1687.4 154.7C1694.3 168.5 1700.4 182.6 1706.2 196.8C1712.1 211.1 1717.7 225.6 1723.5 240.1C1729.3 254.6 1735.3 269.2 1742.0 283.7C1748.6 298.1 1755.9 312.4 1763.9 326.0C1771.9 339.6 1780.8 352.6 1790.6 364.4C1800.4 376.2 1811.2 386.9 1823.2 396.0C1835.2 405.1 1848.3 412.6 1862.9 418.0C1877.4 423.4 1893.4 426.7 1910.9 427.5" stroke="#c9e1fd" stroke-width="2.55" fill="none" stroke-dasharray="8 7.3"/></svg>
</body>
</html>
